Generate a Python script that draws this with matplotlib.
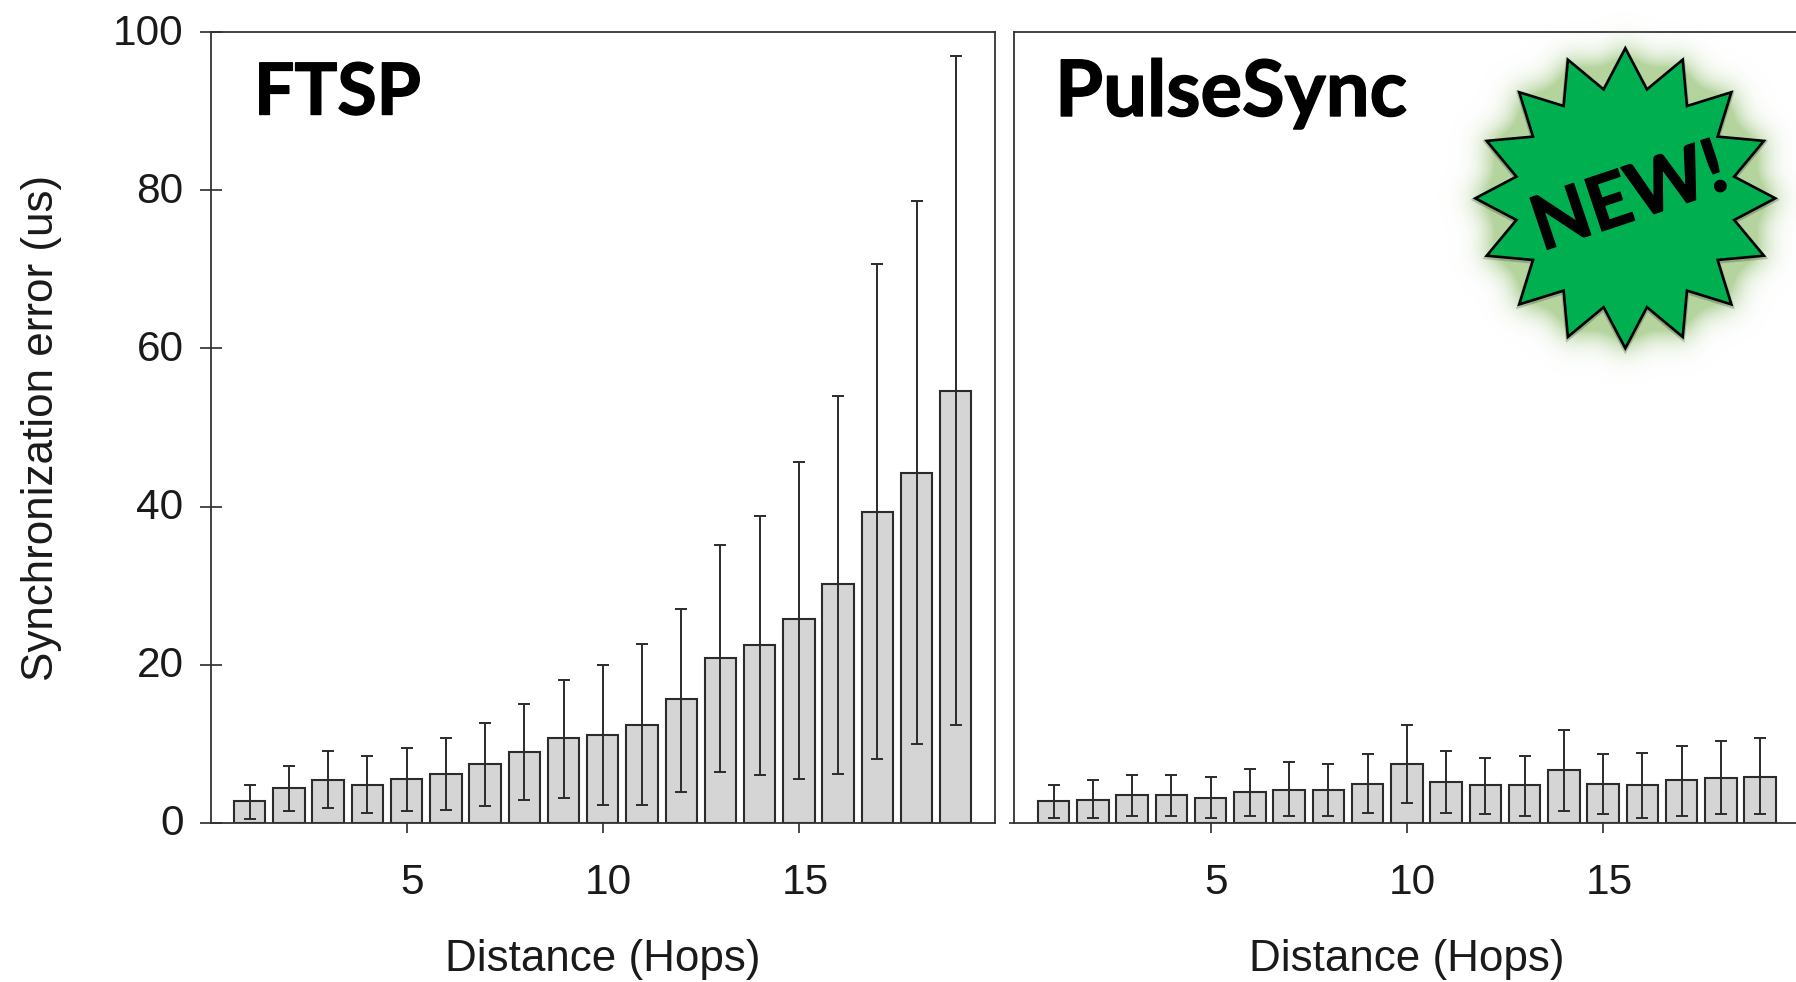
import numpy as np
import matplotlib
matplotlib.use('Agg')
import matplotlib.pyplot as plt
import matplotlib.patheffects as pe
from matplotlib.patches import Polygon
from matplotlib.path import Path
from matplotlib.transforms import ScaledTranslation

hops = list(range(1, 20))
y_ticks = [0, 20, 40, 60, 80, 100]
x_ticks = [5, 10, 15]

ftsp_mean = [2.7, 4.34, 5.44, 4.77, 5.53, 6.2, 7.42, 8.94, 10.67, 11.09, 12.4,
             15.65, 20.8, 22.44, 25.73, 30.2, 39.35, 44.2, 54.66]
ftsp_high = [4.72, 7.2, 9.07, 8.44, 9.45, 10.67, 12.57, 15.0, 18.09, 19.95, 22.6,
             27.1, 35.13, 38.8, 45.6, 54.0, 70.65, 78.66, 96.96]
ftsp_low = [0.42, 1.43, 1.86, 1.27, 1.43, 1.64, 2.07, 2.87, 3.08, 2.28, 2.28,
            3.92, 6.37, 5.99, 5.57, 6.2, 8.01, 9.91, 12.36]

pulse_mean = [2.7, 2.91, 3.5, 3.46, 3.12, 3.92, 4.13, 4.13, 4.93, 7.42, 5.15,
              4.72, 4.72, 6.62, 4.85, 4.77, 5.36, 5.65, 5.78]
pulse_high = [4.72, 5.36, 5.99, 5.99, 5.78, 6.79, 7.63, 7.42, 8.65, 12.36, 9.07,
              8.22, 8.44, 11.72, 8.65, 8.86, 9.66, 10.29, 10.71]
pulse_low = [0.63, 0.63, 0.84, 0.84, 0.63, 0.84, 0.84, 0.84, 1.27, 2.49, 1.27,
             1.05, 0.84, 1.48, 1.05, 0.63, 0.84, 1.05, 1.05]

W, H = 1796, 982
DARK = '#2b2b2b'
TICKFONT = 30.5
LABELFONT = 31.7
BIGFONT = dict(family=['Lato', 'Open Sans', 'DejaVu Sans'], weight='bold', color='black',
               path_effects=[pe.withStroke(linewidth=1.0, foreground='black')])
plt.rcParams['font.family'] = ['Liberation Sans', 'DejaVu Sans']
plt.rcParams['text.color'] = '#1a1a1a'


def px_axes(fig, x0, x1, ytop, ybot):
    return fig.add_axes([x0/W, 1-ybot/H, (x1-x0)/W, (ybot-ytop)/H])


def shift(labels, fig, dx, dy):
    # move tick labels by some pixels
    off = ScaledTranslation(dx/100, dy/100, fig.dpi_scale_trans)
    for lab in labels:
        lab.set_transform(lab.get_transform() + off)


def panel(ax, fig, mean, low, high):
    mean = np.array(mean)
    yerr = [mean-np.array(low), np.array(high)-mean]
    ax.bar(hops, mean, width=0.8, color='#d6d5d6', edgecolor=DARK, linewidth=1.5, zorder=2)
    ax.errorbar(hops, mean, yerr=yerr, fmt='none', ecolor=DARK, elinewidth=1.4,
                capsize=4.2, capthick=1.4, zorder=3)
    ax.set_xlim(0, 20)
    ax.set_ylim(0, 100)
    for s in ax.spines.values():
        s.set_linewidth(1.3)
        s.set_color('#333333')
    ax.set_xticks(x_ticks)
    ax.tick_params(axis='x', direction='out', length=7.2, width=1.2, color=DARK,
                   labelsize=TICKFONT, labelcolor='#1a1a1a', pad=22)
    shift(ax.get_xticklabels(), fig, 6, 0)
    ax.set_xlabel('Distance (Hops)', fontsize=LABELFONT, color='#1a1a1a')
    ax.xaxis.set_label_coords(0.5, -0.147)


def starburst(fig, cx, cy, r_out, r_in, n=16):
    ang = np.pi/2 + np.arange(2*n)*np.pi/n
    rad = np.where(np.arange(2*n) % 2 == 0, r_out, r_in)
    return np.column_stack([cx+rad*np.cos(ang), cy-rad*np.sin(ang)])


fig = plt.figure(figsize=(W/100, H/100), dpi=100, facecolor='white')

ax1 = px_axes(fig, 210.5, 995, 32.3, 822.7)
panel(ax1, fig, ftsp_mean, ftsp_low, ftsp_high)
ax1.set_yticks(y_ticks)
ax1.tick_params(axis='y', direction='inout', length=15.8, width=1.2, color=DARK,
                labelsize=TICKFONT, labelcolor='#1a1a1a', pad=11.5)
shift(ax1.get_yticklabels(), fig, 0, 3)
ax1.set_ylabel('Synchronization error (us)', fontsize=LABELFONT, color='#1a1a1a')
ax1.yaxis.set_label_coords((62-210.5)/784.5, 0.5)

ax2 = px_axes(fig, 1014.3, 1799.3, 32.3, 822.7)
panel(ax2, fig, pulse_mean, pulse_low, pulse_high)
ax2.set_yticks([0])
ax2.tick_params(axis='y', direction='out', length=3.6, width=1.2, color=DARK, labelleft=False)

# overlay in pixel coordinates for the slide decorations
over = fig.add_axes([0, 0, 1, 1], zorder=10)
over.axis('off')
over.patch.set_alpha(0)

over.text(254, 94, 'FTSP', fontsize=51.5, va='center', ha='left', **BIGFONT)
over.text(1055, 94, 'PulseSync', fontsize=56, va='center', ha='left', **BIGFONT)

pts = starburst(fig, 1625.3, 198.3, 150, 111)

# blurred green glow round the star
gx, gy = np.meshgrid(np.arange(1400, 1796), np.arange(0, 420))
mask = Path(pts).contains_points(np.column_stack([gx.ravel(), gy.ravel()])).reshape(gx.shape).astype(float)
kx = np.arange(-60, 61)
kern = np.exp(-kx**2/(2*16.0**2))
kern /= kern.sum()
blur = np.apply_along_axis(lambda v: np.convolve(v, kern, mode='same'), 0, mask)
blur = np.apply_along_axis(lambda v: np.convolve(v, kern, mode='same'), 1, blur)
rgba = np.zeros(gx.shape+(4,))
rgba[..., 0:3] = matplotlib.colors.to_rgb('#b4d39d')
rgba[..., 3] = np.clip(blur*3.2, 0, 1)
over.imshow(rgba, extent=(1400, 1796, 420, 0), interpolation='bilinear', aspect='auto', zorder=1)
over.set_xlim(0, W)
over.set_ylim(H, 0)

over.add_patch(Polygon(pts+[0, 1.5], closed=True, fill=False, edgecolor='black', lw=3.2, alpha=0.2, zorder=2))
over.add_patch(Polygon(pts, closed=True, facecolor='#00b050', edgecolor='black', lw=1.9, joinstyle='miter', zorder=3))
over.text(1630, 199, 'NEW!', fontsize=54, rotation=18.5, rotation_mode='anchor',
          va='center', ha='center', zorder=4, **BIGFONT)

fig.savefig('out.png', dpi=100)
